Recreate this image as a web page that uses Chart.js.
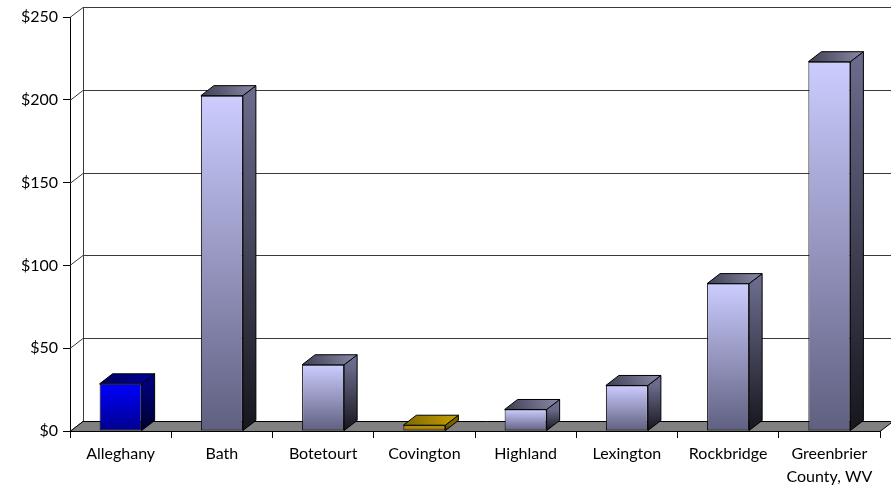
<!DOCTYPE html>
<html>
<head>
<meta charset="utf-8">
<script src="https://cdn.jsdelivr.net/npm/chart.js@4.4.0/dist/chart.umd.min.js"></script>
<style>
  html, body { margin: 0; padding: 0; background: #fff; }
  #wrap { width: 891px; height: 488px; }
</style>
</head>
<body>
<div id="wrap"><canvas id="costChart" width="891" height="488"></canvas></div>
<script>
// Data
const categories = ['Alleghany', 'Bath', 'Botetourt', 'Covington', 'Highland', 'Lexington', 'Rockbridge', ['Greenbrier', 'County, WV']];
const costs = [28.5, 202.5, 40, 3.5, 13, 27.5, 89, 223];
const yTicks = [0, 50, 100, 150, 200, 250];

// Colours of each bar (front, side, top)
const lavender = { front: ['#ccccff', '#5f5f80'], side: ['#6a6a8c', '#16161d'], top: ['#3e3e54', '#8a8aa8'] };
const blue = { front: ['#0000ff', '#00008c'], side: ['#000078', '#000030'], top: ['#000058', '#0000a0'] };
const gold = { front: ['#d4aa00', '#7a6000'], side: ['#7a6000', '#3a2c00'], top: ['#806800', '#c8a000'] };
const palettes = [blue, lavender, lavender, gold, lavender, lavender, lavender, lavender];

// depth of the 3D box
const DX = 13, DY = -10;

function vGrad(ctx, y0, y1, c) {
    const g = ctx.createLinearGradient(0, y0, 0, y1);
    g.addColorStop(0, c[0]);
    g.addColorStop(1, c[1]);
    return g;
}

const threeD = {
    id: 'threeD',
    beforeDatasetsDraw(chart) {
        const ctx = chart.ctx;
        const a = chart.chartArea;
        const y = chart.scales.y;
        ctx.save();
        // walls: gridlines on side and back
        ctx.strokeStyle = '#3a3a3a';
        ctx.lineWidth = 1;
        yTicks.forEach(function (v) {
            const py = Math.round(y.getPixelForValue(v)) + 0.5;
            ctx.beginPath();
            ctx.moveTo(a.left, py);
            ctx.lineTo(a.left + DX, py + DY);
            ctx.lineTo(chart.width, py + DY);
            ctx.stroke();
        });
        ctx.beginPath();
        ctx.moveTo(a.left + DX + 0.5, a.top + DY);
        ctx.lineTo(a.left + DX + 0.5, a.bottom + DY);
        ctx.stroke();
        // floor
        const fb = Math.round(a.bottom) + 0.5;
        ctx.beginPath();
        ctx.moveTo(a.left, fb);
        ctx.lineTo(a.left + DX, fb + DY);
        ctx.lineTo(a.right + DX, fb + DY);
        ctx.lineTo(a.right, fb);
        ctx.closePath();
        ctx.fillStyle = '#808080';
        ctx.fill();
        ctx.strokeStyle = '#000';
        ctx.stroke();
        ctx.restore();
    },
    afterDatasetsDraw(chart) {
        const ctx = chart.ctx;
        const meta = chart.getDatasetMeta(0);
        ctx.save();
        ctx.strokeStyle = '#000';
        ctx.lineWidth = 1;
        meta.data.forEach(function (bar, i) {
            const p = palettes[i];
            const l = bar.x - bar.width / 2, r = bar.x + bar.width / 2;
            const t = bar.y, b = bar.base;
            // side face
            ctx.beginPath();
            ctx.moveTo(r, t);
            ctx.lineTo(r + DX, t + DY);
            ctx.lineTo(r + DX, b + DY);
            ctx.lineTo(r, b);
            ctx.closePath();
            ctx.fillStyle = vGrad(ctx, t, b, p.side);
            ctx.fill();
            ctx.stroke();
            // top face
            ctx.beginPath();
            ctx.moveTo(l, t);
            ctx.lineTo(l + DX, t + DY);
            ctx.lineTo(r + DX, t + DY);
            ctx.lineTo(r, t);
            ctx.closePath();
            const g = ctx.createLinearGradient(l, t, r + DX, t + DY);
            g.addColorStop(0, p.top[0]);
            g.addColorStop(1, p.top[1]);
            ctx.fillStyle = g;
            ctx.fill();
            ctx.stroke();
        });
        ctx.restore();
    }
};

const labelFont = { family: 'Lato', size: 16, lineHeight: 1.25 };

new Chart(document.getElementById('costChart'), {
    type: 'bar',
    data: {
        labels: categories,
        datasets: [{
            data: costs,
            backgroundColor: function (c) {
                const chart = c.chart;
                if (!chart.chartArea || c.dataIndex === undefined) return '#aaaacc';
                const y = chart.scales.y;
                const t = y.getPixelForValue(costs[c.dataIndex]);
                const b = y.getPixelForValue(0);
                return vGrad(chart.ctx, t, b, palettes[c.dataIndex].front);
            },
            borderColor: '#000',
            borderWidth: 1,
            borderSkipped: false,
            barPercentage: 0.415,
            categoryPercentage: 1
        }]
    },
    options: {
        responsive: false,
        animation: false,
        layout: { padding: { top: 17, right: 11, left: 0, bottom: 0 } },
        plugins: { legend: { display: false }, tooltip: { enabled: false } },
        scales: {
            x: {
                grid: { display: true, drawOnChartArea: false, drawTicks: true, tickLength: 7, color: '#000', offset: true },
                border: { display: true, color: '#000', width: 1 },
                ticks: { color: '#000', font: { family: 'Lato', size: 16, lineHeight: 1.4 }, padding: 5, maxRotation: 0, autoSkip: false },
                afterFit: function (s) { s.height = 57; }
            },
            y: {
                min: 0,
                max: 250,
                grid: { display: true, drawOnChartArea: false, drawTicks: true, tickLength: 7, color: '#000' },
                border: { display: true, color: '#000', width: 1 },
                ticks: {
                    stepSize: 50,
                    color: '#000',
                    font: labelFont,
                    padding: 5,
                    callback: function (v) { return '$' + v; }
                },
                afterFit: function (s) { s.width = 70; }
            }
        }
    },
    plugins: [threeD]
});
</script>
</body>
</html>
